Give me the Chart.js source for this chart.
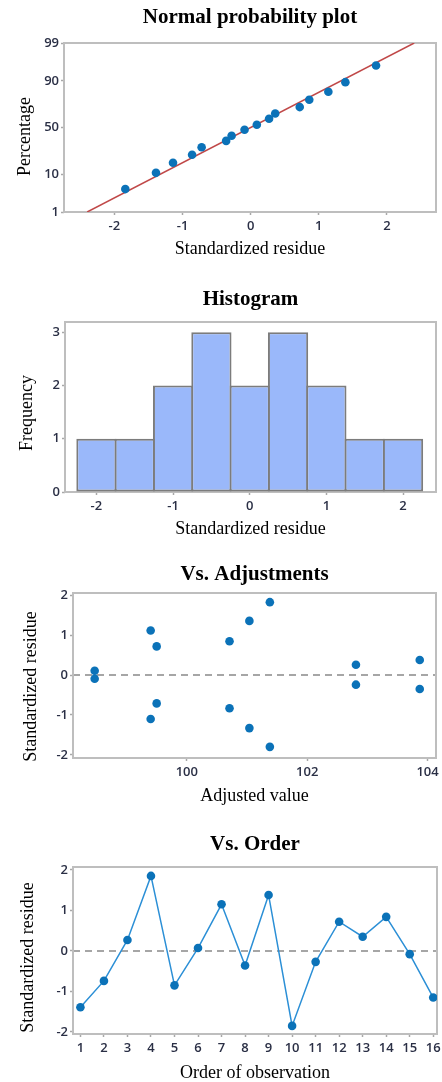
<!DOCTYPE html>
<html>
<head>
<meta charset="utf-8">
<script src="https://cdn.jsdelivr.net/npm/chart.js@4.4.0/dist/chart.umd.min.js"></script>
<style>
  body { margin: 0; background: #fff; }
  .panel { position: absolute; left: 0; width: 442px; height: 262px; }
</style>
</head>
<body>
<div class="panel" style="top:0px"><canvas id="normChart"></canvas></div>
<div class="panel" style="top:280px"><canvas id="histChart"></canvas></div>
<div class="panel" style="top:550px"><canvas id="adjChart"></canvas></div>
<div class="panel" style="top:820px"><canvas id="orderChart"></canvas></div>
<script>
// normal probability plot
var normResid = [-1.84, -1.39, -1.14, -0.86, -0.72, -0.36, -0.28, -0.09, 0.09, 0.27, 0.36, 0.72, 0.86, 1.14, 1.39, 1.84];
var normPct = [4.5, 10.6, 16.6, 22.7, 29.3, 35.6, 41.0, 47.5, 53.0, 59.5, 65.0, 71.3, 77.7, 83.7, 89.4, 95.6];
var fitResid = [-2.4, 2.4];
var fitPct = [1, 99];
var pctTicks = [1, 10, 50, 90, 99];
var residTicks = [-2, -1, 0, 1, 2];

// histogram
var binCenters = [-2, -1.5, -1, -0.5, 0, 0.5, 1, 1.5, 2];
var binCounts = [1, 1, 2, 3, 2, 3, 2, 1, 1];
var freqTicks = [0, 1, 2, 3];

// vs. adjustments
var adjValue = [98.47, 98.47, 99.40, 99.40, 99.50, 99.50, 100.71, 100.71, 101.04, 101.04, 101.38, 101.38, 102.81, 102.81, 103.87, 103.87];
var adjResid = [0.11, -0.09, 1.12, -1.10, 0.72, -0.71, 0.85, -0.83, 1.36, -1.33, 1.83, -1.80, 0.26, -0.24, 0.38, -0.35];
var adjTicks = [100, 102, 104];

// vs. order
var orderNo = [1, 2, 3, 4, 5, 6, 7, 8, 9, 10, 11, 12, 13, 14, 15, 16];
var orderResid = [-1.39, -0.74, 0.27, 1.85, -0.85, 0.07, 1.15, -0.36, 1.38, -1.85, -0.27, 0.72, 0.35, 0.84, -0.08, -1.15];

// inverse normal cdf (Acklam)
function probit(p) {
  var a = [-3.969683028665376e+01, 2.209460984245205e+02, -2.759285104469687e+02, 1.383577518672690e+02, -3.066479806614716e+01, 2.506628277459239e+00];
  var b = [-5.447609879822406e+01, 1.615858368580409e+02, -1.556989798598866e+02, 6.680131188771972e+01, -1.328068155288572e+01];
  var c = [-7.784894002430293e-03, -3.223964580411365e-01, -2.400758277161838e+00, -2.549732539343734e+00, 4.374664141464968e+00, 2.938163982698783e+00];
  var d = [7.784695709041462e-03, 3.224671290700398e-01, 2.445134137142996e+00, 3.754408661907416e+00];
  var pl = 0.02425, q, r;
  if (p < pl) {
    q = Math.sqrt(-2 * Math.log(p));
    return (((((c[0]*q+c[1])*q+c[2])*q+c[3])*q+c[4])*q+c[5]) / ((((d[0]*q+d[1])*q+d[2])*q+d[3])*q+1);
  }
  if (p > 1 - pl) {
    q = Math.sqrt(-2 * Math.log(1 - p));
    return -(((((c[0]*q+c[1])*q+c[2])*q+c[3])*q+c[4])*q+c[5]) / ((((d[0]*q+d[1])*q+d[2])*q+d[3])*q+1);
  }
  q = p - 0.5; r = q * q;
  return (((((a[0]*r+a[1])*r+a[2])*r+a[3])*r+a[4])*r+a[5])*q / (((((b[0]*r+b[1])*r+b[2])*r+b[3])*r+b[4])*r+1);
}

// percentage axis on normal probability paper
class ProbabilityScale extends Chart.LinearScale {
  static id = 'probability';
  configure() {
    super.configure();
    this._startValue = probit(this.min / 100);
    this._endValue = probit(this.max / 100);
    this._valueRange = this._endValue - this._startValue;
  }
  getPixelForValue(value) {
    if (value === null || value === undefined) return NaN;
    return this.getPixelForDecimal((probit(value / 100) - this._startValue) / this._valueRange);
  }
}
Chart.register(ProbabilityScale);

Chart.defaults.font.family = '"Open Sans", sans-serif';
Chart.defaults.animation = false;
Chart.defaults.responsive = true;
Chart.defaults.maintainAspectRatio = false;
Chart.defaults.plugins.legend.display = false;
Chart.defaults.plugins.tooltip.enabled = false;

var tickFont = { size: 13, weight: '600' };
var tickColor = '#2a2f45';
var serif = '"Liberation Serif", "Times New Roman", serif';
var titleFont = { family: serif, size: 18, lineHeight: 1 };
var gridOpts = { display: true, drawOnChartArea: false, drawTicks: true, tickLength: 3, tickColor: '#a8a8a8', tickWidth: 1.5, offset: false };
var dotColor = '#0b72b8';

// frame, zero line, chart title and y title
var framePlugin = {
  id: 'frame',
  beforeDatasetsDraw: function (chart, args, opts) {
    var a = chart.chartArea, ctx = chart.ctx;
    ctx.save();
    if (opts.zeroLine) {
      var y = chart.scales.y.getPixelForValue(0);
      ctx.strokeStyle = '#a6a6a6';
      ctx.lineWidth = 2;
      ctx.setLineDash([7, 5]);
      ctx.beginPath();
      ctx.moveTo(a.left, y);
      ctx.lineTo(a.right, y);
      ctx.stroke();
      ctx.setLineDash([]);
    }
    ctx.strokeStyle = '#bebebe';
    ctx.lineWidth = 2;
    ctx.strokeRect(a.left, a.top, a.right - a.left, a.bottom - a.top);
    ctx.restore();
  },
  afterDraw: function (chart, args, opts) {
    var a = chart.chartArea, ctx = chart.ctx;
    ctx.save();
    ctx.fillStyle = '#000';
    ctx.textAlign = 'center';
    ctx.textBaseline = 'alphabetic';
    ctx.font = 'bold 21px ' + serif;
    ctx.fillText(opts.title, (a.left + a.right) / 2, opts.titleY);
    ctx.translate(opts.yTitleX, (a.top + a.bottom) / 2 + opts.yTitleShift);
    ctx.rotate(-Math.PI / 2);
    ctx.textBaseline = 'middle';
    ctx.font = '18px ' + serif;
    ctx.fillText(opts.yTitle, 0, 0);
    ctx.restore();
  }
};

function xAxis(min, max, ticks, title, titleBottom, boxHeight) {
  return {
    type: 'linear', min: min, max: max, offset: false,
    afterBuildTicks: function (s) { s.ticks = ticks.map(function (v) { return { value: v }; }); },
    afterFit: function (s) { s.height = boxHeight; s.paddingLeft = 0; s.paddingRight = 0; },
    ticks: { font: tickFont, color: tickColor, padding: 3, maxRotation: 0, autoSkip: false,
             callback: function (v) { return String(v); } },
    grid: gridOpts,
    border: { display: false },
    title: { display: true, text: title, color: '#000', font: titleFont, padding: { top: 0, bottom: titleBottom } }
  };
}

function yAxis(type, min, max, ticks, boxWidth) {
  return {
    type: type, min: min, max: max,
    afterBuildTicks: function (s) { s.ticks = ticks.map(function (v) { return { value: v }; }); },
    afterFit: function (s) { s.width = boxWidth; s.paddingTop = 0; s.paddingBottom = 0; },
    ticks: { font: tickFont, color: tickColor, padding: 2, autoSkip: false,
             callback: function (v) { return String(v); } },
    grid: gridOpts,
    border: { display: false }
  };
}

new Chart(document.getElementById('normChart'), {
  type: 'scatter',
  data: {
    datasets: [{
      data: normResid.map(function (v, i) { return { x: v, y: normPct[i] }; }),
      backgroundColor: dotColor, borderWidth: 0, pointRadius: 4.3
    }, {
      type: 'line',
      data: fitResid.map(function (v, i) { return { x: v, y: fitPct[i] }; }),
      borderColor: '#c04848', borderWidth: 1.5, pointRadius: 0, fill: false
    }]
  },
  options: {
    layout: { padding: { left: 0, top: 43, right: 6, bottom: 0 } },
    scales: {
      x: xAxis(-2.74, 2.72, residTicks, 'Standardized residue', 4, 50),
      y: yAxis('probability', 1, 99, pctTicks, 64)
    },
    plugins: { frame: { title: 'Normal probability plot', titleY: 23,
                        yTitle: 'Percentage', yTitleX: 25, yTitleShift: 9 } }
  },
  plugins: [framePlugin]
});

new Chart(document.getElementById('histChart'), {
  type: 'bar',
  data: {
    datasets: [{
      data: binCenters.map(function (v, i) { return { x: v, y: binCounts[i] }; }),
      backgroundColor: '#9ab8fa', borderColor: '#7c7c7c', borderWidth: 2,
      borderSkipped: false, barPercentage: 1.05, categoryPercentage: 1
    }]
  },
  options: {
    layout: { padding: { left: 0, top: 42, right: 6, bottom: 0 } },
    scales: {
      x: xAxis(-2.41, 2.43, residTicks, 'Standardized residue', 4, 50),
      y: yAxis('linear', 0, 3.19, freqTicks, 65)
    },
    plugins: { frame: { title: 'Histogram', titleY: 25,
                        yTitle: 'Frequency', yTitleX: 27, yTitleShift: 6 } }
  },
  plugins: [framePlugin]
});

new Chart(document.getElementById('adjChart'), {
  type: 'scatter',
  data: {
    datasets: [{
      data: adjValue.map(function (v, i) { return { x: v, y: adjResid[i] }; }),
      backgroundColor: dotColor, borderWidth: 0, pointRadius: 4.3
    }]
  },
  options: {
    layout: { padding: { left: 0, top: 43, right: 6, bottom: 0 } },
    scales: {
      x: xAxis(98.11, 104.14, adjTicks, 'Adjusted value', 7, 54),
      y: yAxis('linear', -2.08, 2.06, residTicks, 73)
    },
    plugins: { frame: { title: 'Vs. Adjustments', titleY: 30, zeroLine: true,
                        yTitle: 'Standardized residue', yTitleX: 31, yTitleShift: 11 } }
  },
  plugins: [framePlugin]
});

new Chart(document.getElementById('orderChart'), {
  type: 'scatter',
  data: {
    datasets: [{
      data: orderNo.map(function (v, i) { return { x: v, y: orderResid[i] }; }),
      showLine: true, tension: 0,
      borderColor: '#2b8fd6', borderWidth: 1.5,
      backgroundColor: dotColor, pointBorderWidth: 0, pointRadius: 4.3
    }]
  },
  options: {
    layout: { padding: { left: 0, top: 47, right: 5, bottom: 0 } },
    scales: {
      x: xAxis(0.685, 16.16, orderNo, 'Order of observation', 0, 48),
      y: yAxis('linear', -2.05, 2.07, residTicks, 73)
    },
    plugins: { frame: { title: 'Vs. Order', titleY: 30, zeroLine: true,
                        yTitle: 'Standardized residue', yTitleX: 28, yTitleShift: 7 } }
  },
  plugins: [framePlugin]
});
</script>
</body>
</html>
